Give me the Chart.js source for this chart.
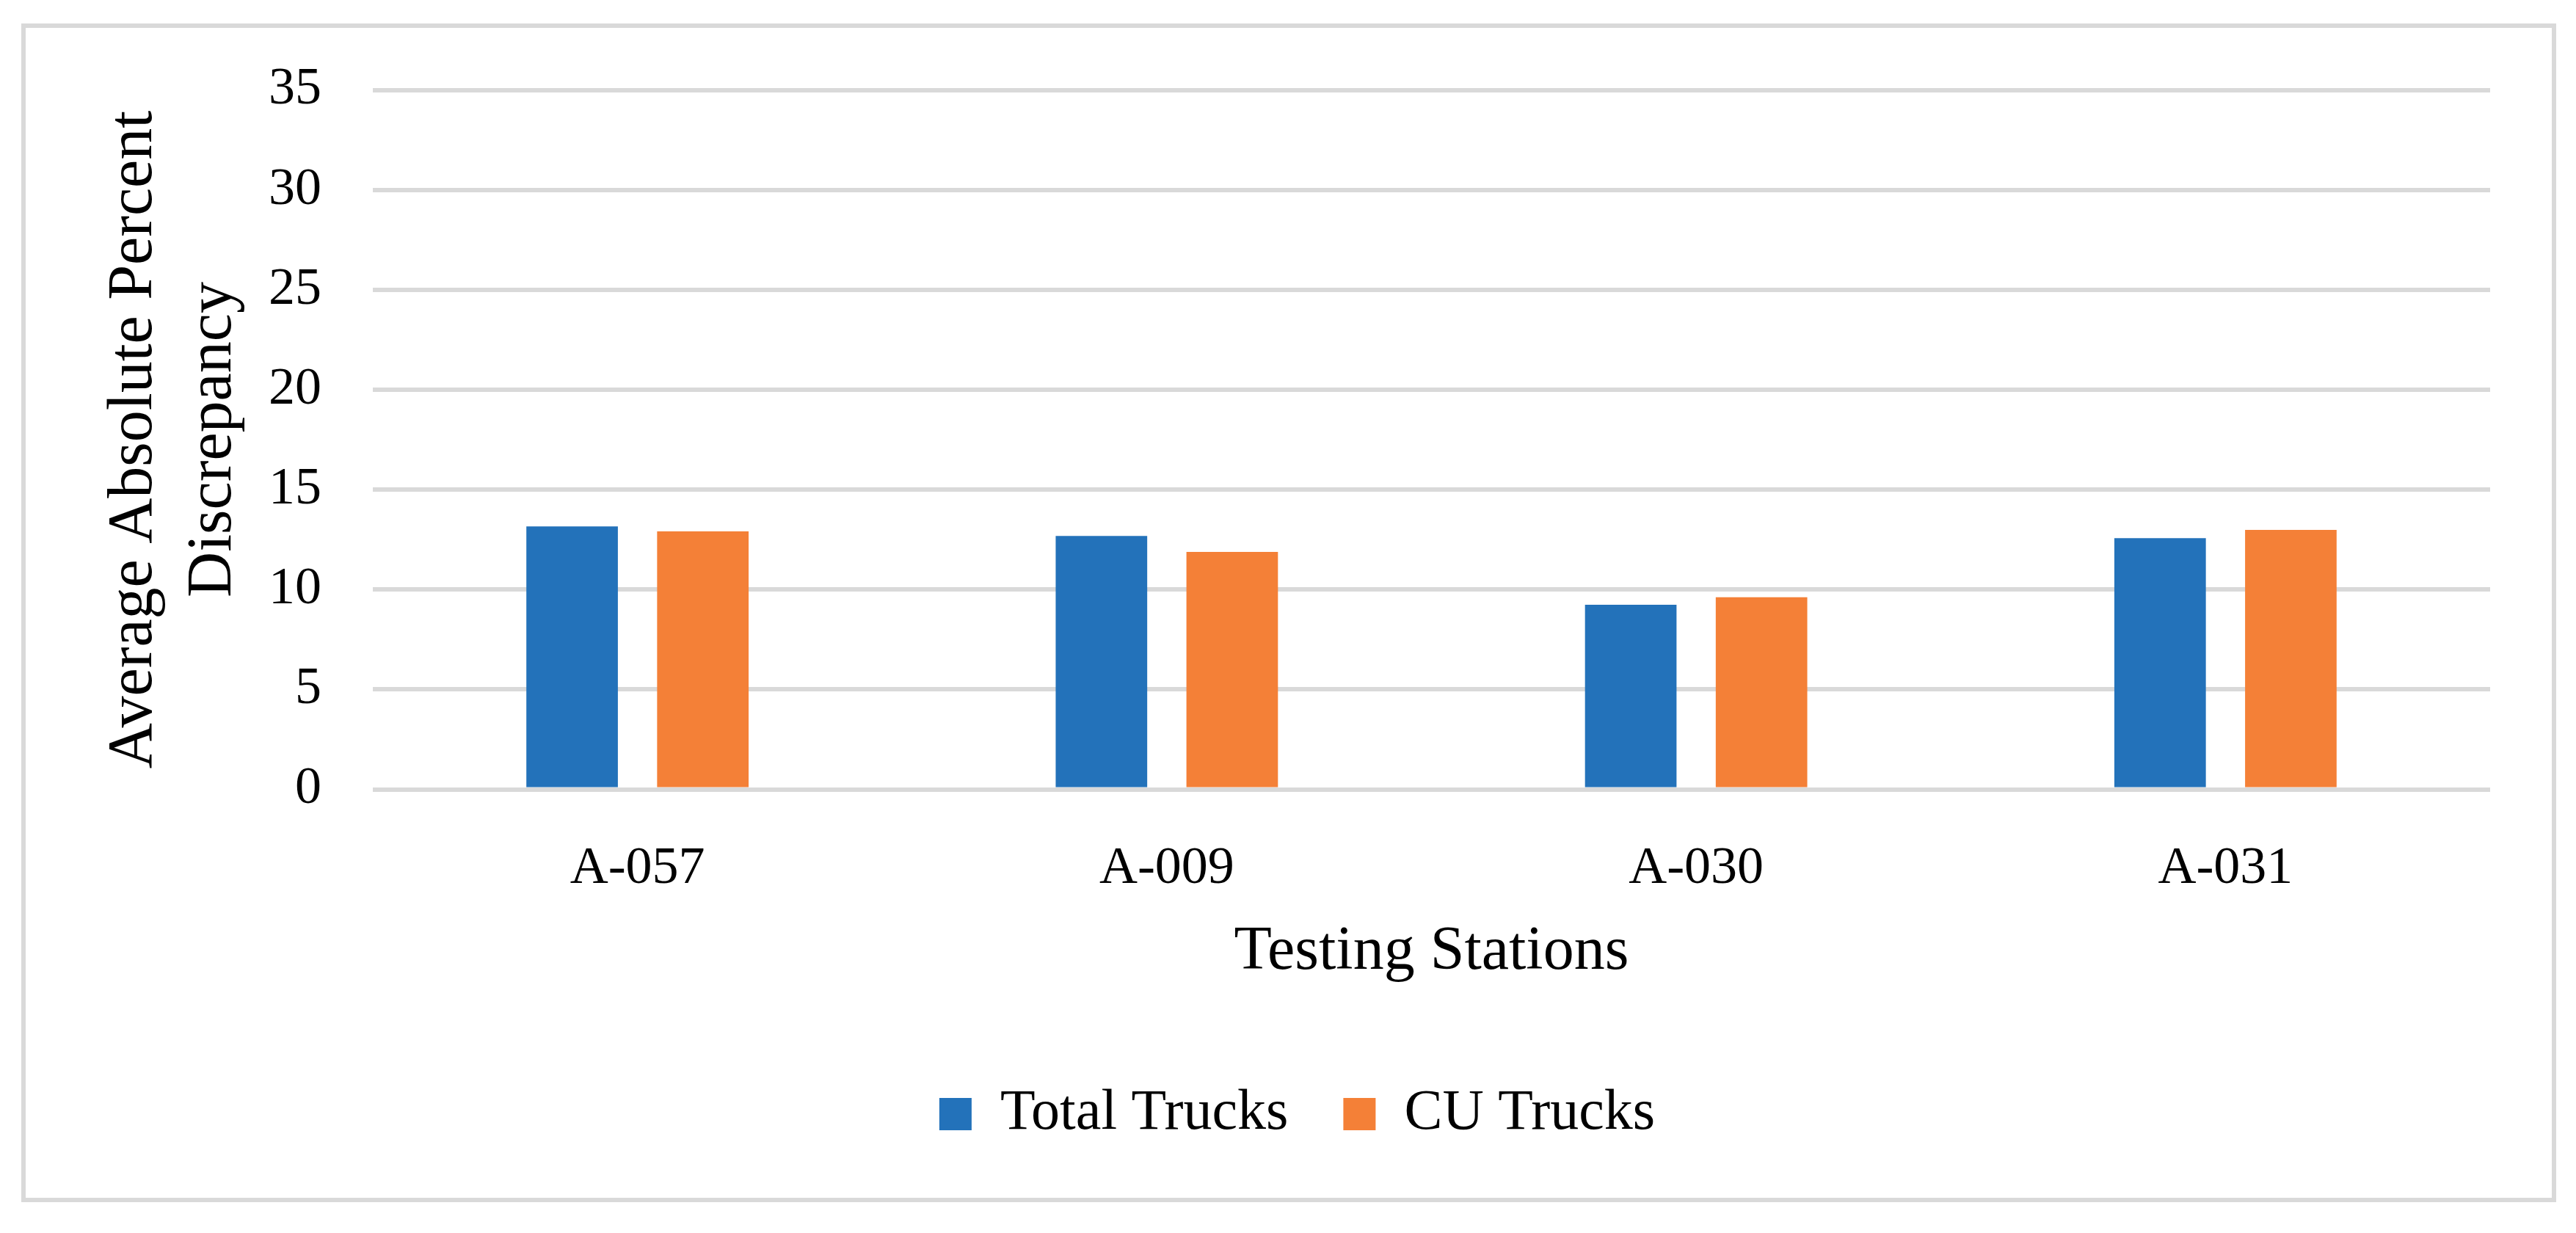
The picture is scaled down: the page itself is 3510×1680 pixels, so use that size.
<!DOCTYPE html>
<html>
<head>
<meta charset="utf-8">
<title>Average Absolute Percent Discrepancy</title>
<script src="https://cdn.jsdelivr.net/npm/chart.js@4/dist/chart.umd.min.js"></script>
<style>
  body { margin: 0; background: #fff; }
  canvas { display: block; }
</style>
</head>
<body>
<canvas id="myChart" width="3510" height="1680"></canvas>
<script>
// data
const stations = ['A-057', 'A-009', 'A-030', 'A-031'];
const totalTrucks = [13.16, 12.68, 9.24, 12.57];
const cuTrucks = [12.91, 11.88, 9.61, 12.98];
const seriesNames = ['Total Trucks', 'CU Trucks'];
const yTicks = [0, 5, 10, 15, 20, 25, 30, 35];

const fontFamily = '"Liberation Serif", "Times New Roman", serif';

// light grey border round the whole figure
const framePlugin = {
    id: 'frame',
    beforeDraw(chart) {
        const ctx = chart.ctx;
        ctx.save();
        ctx.fillStyle = '#ffffff';
        ctx.fillRect(0, 0, chart.width, chart.height);
        ctx.strokeStyle = '#d9d9d9';
        ctx.lineWidth = 6;
        ctx.strokeRect(32, 35, 3448, 1600);
        ctx.restore();
    }
};

// legend is centred on the whole figure, not on the padded area
const legendShift = {
    id: 'legendShift',
    afterLayout(chart) {
        chart.legend.left += 71;
        chart.legend.right += 71;
    }
};

window.onload = function() {
    let ctx = document.getElementById('myChart').getContext('2d');
    let myChart = new Chart(ctx, {
        type: 'bar',
        data: {
            labels: stations,
            datasets: [{
                label: seriesNames[0],
                data: totalTrucks,
                backgroundColor: '#2372ba',
                borderWidth: 0
            }, {
                label: seriesNames[1],
                data: cuTrucks,
                backgroundColor: '#f48037',
                borderWidth: 0
            }]
        },
        plugins: [framePlugin, legendShift],
        options: {
            responsive: false,
            animation: false,
            devicePixelRatio: 1,
            categoryPercentage: 0.494,
            barPercentage: 0.70,
            layout: {
                padding: { left: 0, right: 117, top: 122.5, bottom: 113 }
            },
            plugins: {
                tooltip: { enabled: false },
                legend: {
                    position: 'bottom',
                    labels: {
                        boxWidth: 44,
                        boxHeight: 44,
                        padding: 75,
                        color: '#000',
                        font: { family: fontFamily, size: 78 }
                    }
                }
            },
            scales: {
                x: {
                    grid: { display: false },
                    border: { display: false },
                    ticks: {
                        color: '#000',
                        padding: 57,
                        maxRotation: 0,
                        font: { family: fontFamily, size: 72 }
                    },
                    title: {
                        display: true,
                        text: 'Testing Stations',
                        color: '#000',
                        padding: { top: 0, bottom: 56 },
                        font: { family: fontFamily, size: 84 }
                    },
                    afterFit: function(scale) { scale.height = 328.5; }
                },
                y: {
                    min: 0,
                    max: 35,
                    grid: { color: '#d9d9d9', lineWidth: 6, drawTicks: false },
                    border: { display: false },
                    afterBuildTicks: function(scale) {
                        scale.ticks = yTicks.map(v => ({ value: v }));
                    },
                    ticks: {
                        color: '#000',
                        padding: 70,
                        font: { family: fontFamily, size: 72 }
                    },
                    title: {
                        display: true,
                        text: ['Average Absolute Percent', 'Discrepancy'],
                        color: '#000',
                        padding: { top: 129, bottom: 0 },
                        font: { family: fontFamily, size: 86, lineHeight: 1.256 }
                    },
                    afterFit: function(scale) { scale.width = 508; }
                }
            }
        }
    });
};
</script>
</body>
</html>
